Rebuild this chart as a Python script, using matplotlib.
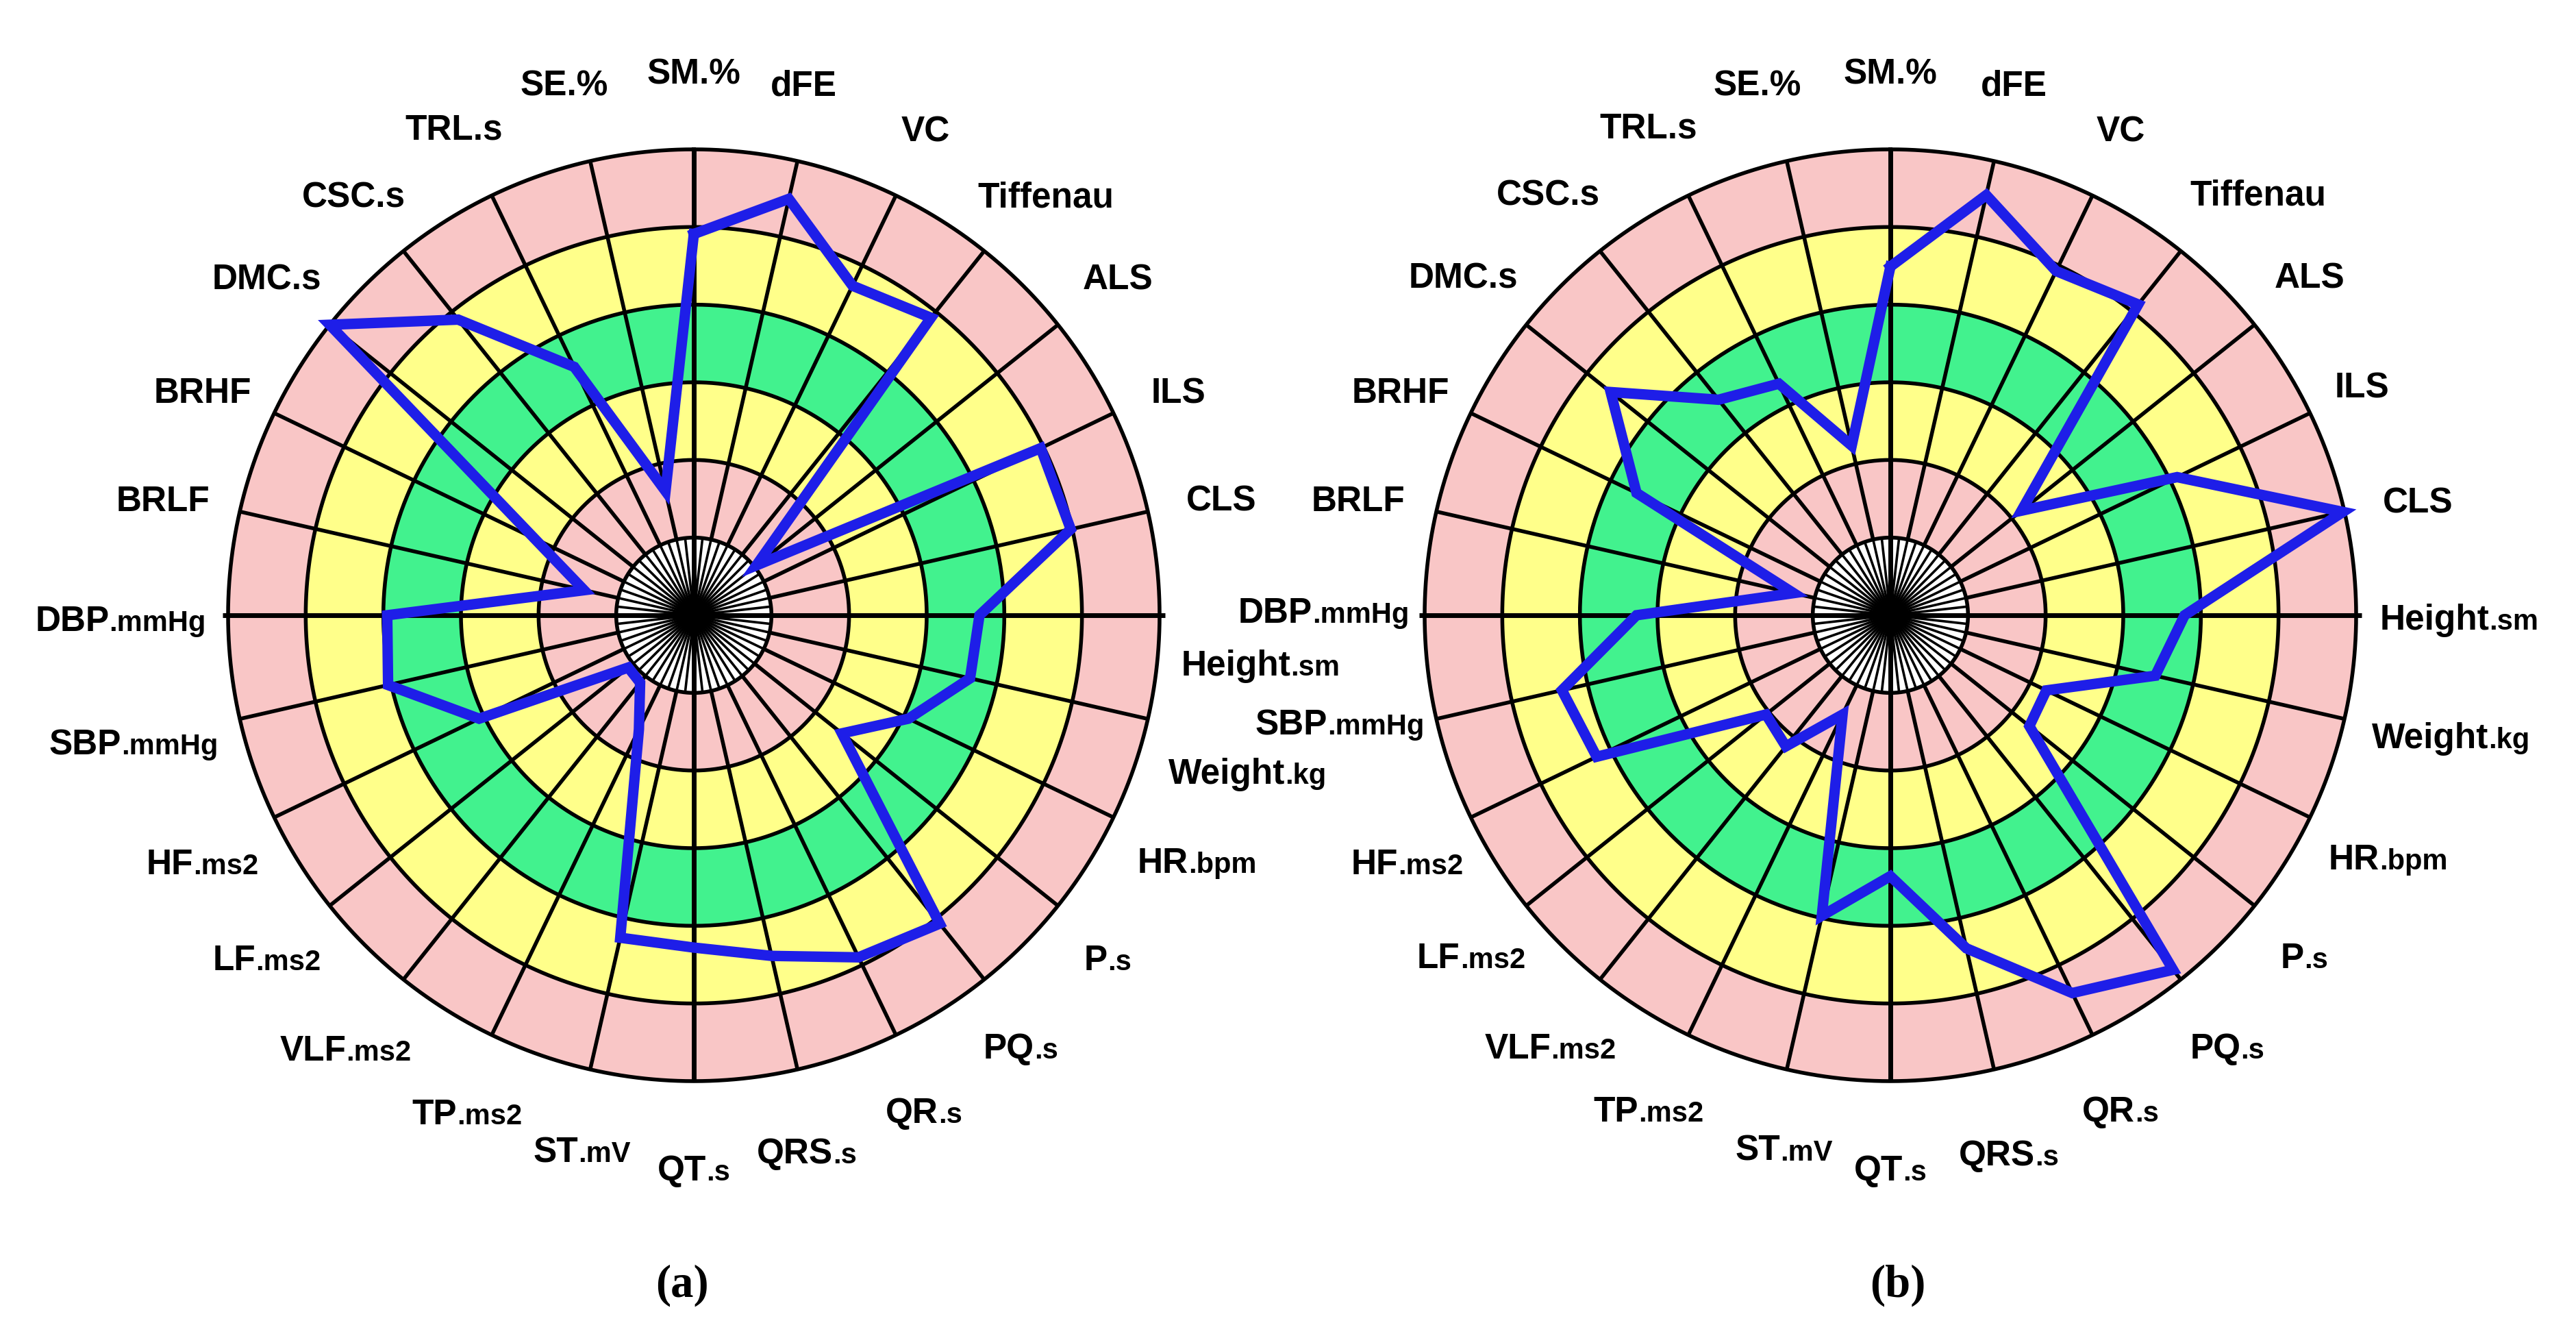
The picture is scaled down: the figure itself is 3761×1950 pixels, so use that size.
import numpy as np
import matplotlib
matplotlib.use("Agg")
import matplotlib.pyplot as plt
from matplotlib.transforms import IdentityTransform

# ---------------- data ----------------
labels = ["SM.%", "dFE", "VC", "Tiffenau", "ALS", "ILS", "CLS", "Height.sm",
          "Weight.kg", "HR.bpm", "P.s", "PQ.s", "QR.s", "QRS.s", "QT.s", "ST.mV",
          "TP.ms2", "VLF.ms2", "LF.ms2", "HF.ms2", "SBP.mmHg", "DBP.mmHg", "BRLF",
          "BRHF", "DMC.s", "CSC.s", "TRL.s", "SE.%"]
# labels whose unit part is printed smaller
small_unit = [False, False, False, False, False, False, False, True,
              True, True, True, True, True, True, True, True,
              True, True, True, True, True, True, False,
              False, False, False, False, False]

values_a = [4.91, 5.50, 4.71, 4.90, 1.03, 4.96, 4.98, 3.68,
            3.65, 3.07, 2.44, 5.08, 4.89, 4.50, 4.28, 4.26,
            1.63, 1.11, 1.08, 3.07, 4.04, 3.95, 1.45,
            2.28, 6.00, 4.87, 3.55, 1.64]
values_b = [4.49, 5.55, 4.92, 5.12, 2.16, 4.10, 5.98, 3.79,
            3.50, 2.23, 2.29, 5.84, 5.40, 4.40, 3.36, 3.97,
            1.42, 2.16, 2.05, 4.20, 4.34, 3.27, 1.28,
            3.63, 4.61, 3.55, 3.31, 2.24]

ring_edges = [0, 1, 2, 3, 4, 5, 6]
captions = ["(a)", "(b)"]

# ---------------- style / layout ----------------
PINK = "#F9C6C6"
YELLOW = "#FFFF8A"
GREEN = "#42F28E"
BLUE = "#1E1EE8"
ring_colors = ["white", PINK, YELLOW, GREEN, YELLOW, PINK]

W, H = 3762, 1950
DPI = 100
R_PX = 680
centers = [(1013, 898), (2760, 898)]

# label centre offsets in units of the chart radius (x right, y down)
label_off_a = [(0.000, -1.168), (0.236, -1.143), (0.498, -1.044), (0.755, -0.903),
               (0.910, -0.727), (1.041, -0.483), (1.133, -0.251), (1.217, 0.102),
               (1.189, 0.335), (1.080, 0.526), (0.889, 0.734), (0.702, 0.924),
               (0.494, 1.062), (0.243, 1.150), (0.000, 1.186), (-0.240, 1.147),
               (-0.487, 1.066), (-0.748, 0.928), (-0.917, 0.734), (-1.055, 0.529),
               (-1.203, 0.272), (-1.231, 0.007), (-1.140, -0.251), (-1.055, -0.483),
               (-0.917, -0.727), (-0.730, -0.903), (-0.515, -1.048), (-0.279, -1.143)]
label_off_b = [(0.000, -1.168), (0.265, -1.143), (0.494, -1.044), (0.790, -0.907),
               (0.900, -0.730), (1.013, -0.494), (1.133, -0.247), (1.221, 0.004),
               (1.203, 0.258), (1.069, 0.519), (0.889, 0.730), (0.723, 0.924),
               (0.494, 1.059), (0.254, 1.154), (0.000, 1.186), (-0.229, 1.143),
               (-0.519, 1.059), (-0.730, 0.924), (-0.900, 0.730), (-1.037, 0.529),
               (-1.182, 0.229), (-1.217, -0.011), (-1.143, -0.251), (-1.052, -0.483),
               (-0.917, -0.730), (-0.734, -0.907), (-0.519, -1.052), (-0.286, -1.143)]
caption_pos = [(996, 1876), (2771, 1876)]

FS_MAIN = 37
FS_UNIT = 30
LABEL_FONT = ["Liberation Sans", "DejaVu Sans"]
GRID_LW = 4.0
AXIS_LW = 5.0

fig = plt.figure(figsize=(W / DPI, H / DPI), dpi=DPI)
fig.patch.set_facecolor("white")

n = len(labels)
step = 2 * np.pi / n
spoke_theta = np.arange(n) * step
cell_theta = spoke_theta + step / 2
circ = np.linspace(0, 2 * np.pi, 721)


def draw_panel(center, values):
    cx, cy = center
    rect = [(cx - R_PX) / W, (H - cy - R_PX) / H, 2 * R_PX / W, 2 * R_PX / H]
    ax = fig.add_axes(rect, projection="polar")
    ax.set_theta_zero_location("N")
    ax.set_theta_direction(-1)
    ax.set_ylim(0, ring_edges[-1])
    ax.set_xticks([])
    ax.set_yticks([])
    ax.grid(False)
    ax.spines["polar"].set_visible(False)
    ax.set_facecolor("white")

    # coloured cells
    for i in range(1, len(ring_edges) - 1):
        ax.bar(cell_theta, ring_edges[i + 1] - ring_edges[i], width=step,
               bottom=ring_edges[i], color=ring_colors[i], edgecolor="none",
               align="center", zorder=1)

    # core hatching
    core_theta = np.arange(2 * n) * step / 2
    for t in core_theta:
        ax.plot([t, t], [0.05, ring_edges[1]], color="black", lw=2.6,
                solid_capstyle="butt", zorder=2)
    star_t = np.arange(8) * np.pi / 4
    star_r = [0.36, 0.13] * 4
    ax.fill(np.append(star_t, star_t[0]), star_r + [star_r[0]],
            color="black", zorder=3)

    # rings
    for r in ring_edges[1:]:
        ax.plot(circ, np.full_like(circ, r), color="black",
                lw=GRID_LW, zorder=2, clip_on=False)
    # spokes
    for k, t in enumerate(spoke_theta):
        if k % 7 == 0:
            rmax = ring_edges[-1] + (0.07 if k % 14 == 7 else 0)
            ax.plot([t, t], [0, rmax], color="black", lw=AXIS_LW,
                    solid_capstyle="butt", zorder=2, clip_on=False)
        else:
            ax.plot([t, t], [ring_edges[1], ring_edges[-1]], color="black",
                    lw=GRID_LW, solid_capstyle="butt", zorder=2, clip_on=False)

    # profile
    vt = np.append(spoke_theta, spoke_theta[0])
    vr = np.append(values, values[0])
    ax.plot(vt, vr, color=BLUE, lw=11, solid_joinstyle="miter",
            zorder=4, clip_on=False)
    return ax


axes = [draw_panel(centers[0], values_a), draw_panel(centers[1], values_b)]

# ---------------- labels ----------------
renderer = fig.canvas.get_renderer()
cap_px = 0.72 * FS_MAIN * DPI / 72.0


def place_label(x_img, y_img, text, small):
    if small and "." in text:
        main, unit = text.split(".", 1)
        unit = "." + unit
    else:
        main, unit = text, ""
    t1 = fig.text(0, 0, main, fontsize=FS_MAIN, fontweight="bold",
                  family=LABEL_FONT, ha="left", va="baseline",
                  transform=IdentityTransform())
    w1 = t1.get_window_extent(renderer).width
    w2 = 0
    t2 = None
    if unit:
        t2 = fig.text(0, 0, unit, fontsize=FS_UNIT, fontweight="bold",
                      family=LABEL_FONT, ha="left", va="baseline",
                      transform=IdentityTransform())
        w2 = t2.get_window_extent(renderer).width
    x0 = x_img - (w1 + w2) / 2.0
    yb = (H - y_img) - cap_px / 2.0
    t1.set_position((x0, yb))
    if t2 is not None:
        t2.set_position((x0 + w1, yb))


for (cx, cy), offs in zip(centers, [label_off_a, label_off_b]):
    for lab, sm, (ox, oy) in zip(labels, small_unit, offs):
        place_label(cx + ox * R_PX, cy + oy * R_PX, lab, sm)

for cap, (x, y) in zip(captions, caption_pos):
    fig.text(x, H - y, cap, fontsize=48, fontweight="bold",
             family=["Liberation Serif", "DejaVu Serif"], ha="center",
             va="center", transform=IdentityTransform())

fig.savefig("out.png", dpi=DPI, facecolor="white")
